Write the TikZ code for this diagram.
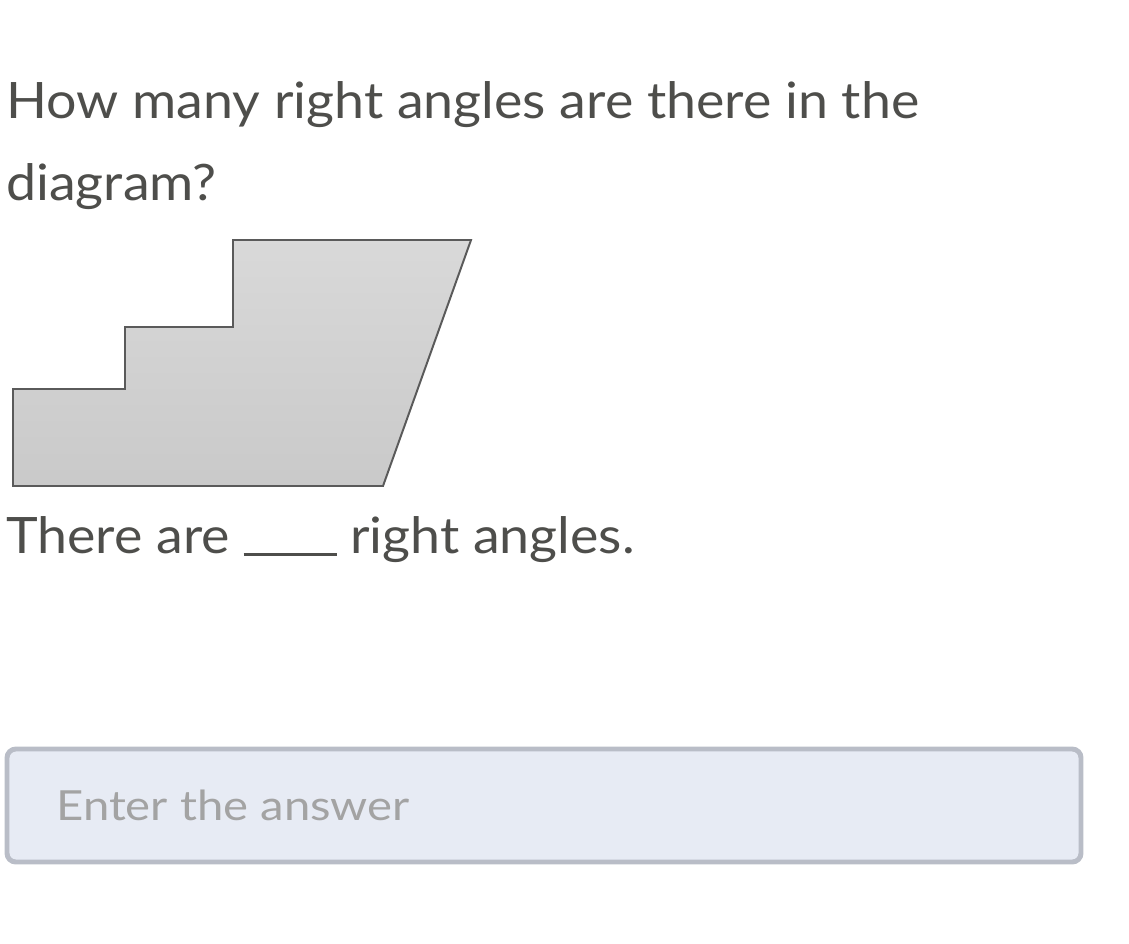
\documentclass[tikz,border=0pt]{standalone}
\usepackage{fontspec}
\setmainfont{Lato}
\newfontfamily\questionfont{Lato}[FakeStretch=1.07]
\newfontfamily\hintfont{Lato}[FakeStretch=1.14]
\usepackage{xcolor}
\definecolor{textgray}{HTML}{4E4E4B}
\definecolor{hintgray}{HTML}{A3A3A3}
\definecolor{boxfill}{HTML}{E7EBF4}
\definecolor{boxline}{HTML}{B9BDC7}
\definecolor{shapeline}{HTML}{5A5A5A}

\tikzset{
    question/.style={anchor=base west, inner sep=0pt, text=textgray, font=\questionfont\fontsize{35.7}{40}\selectfont},
    hint/.style={anchor=base west, inner sep=0pt, text=hintgray, font=\hintfont\fontsize{29.5}{34}\selectfont}
}

\begin{document}
\begin{tikzpicture}[x=0.025cm, y=-0.025cm]
                \useasboundingbox (0,0) rectangle (1129,943);
                \node[question] (line1) at (6,118) {How many right angles are there in the};
                \node[question] (line2) at (6,200) {diagram?};
                \draw[shapeline, line width=1.4pt, top color=black!15, bottom color=black!21, line join=miter]
                    (13,486) -- (13,389) -- (125,389) -- (125,327) -- (233,327) -- (233,240) -- (471,240) -- (383,486) -- cycle;
                \node[question] (line3) at (6,553) {There are \rule[-0.05em]{1.85em}{0.055em} right angles.};
                \draw[boxline, fill=boxfill, line width=3.5pt, rounded corners=0.22cm] (7,749) rectangle (1081,862);
                \node[hint] (answer) at (56,820) {Enter the answer};
            \end{tikzpicture}
\end{document}
